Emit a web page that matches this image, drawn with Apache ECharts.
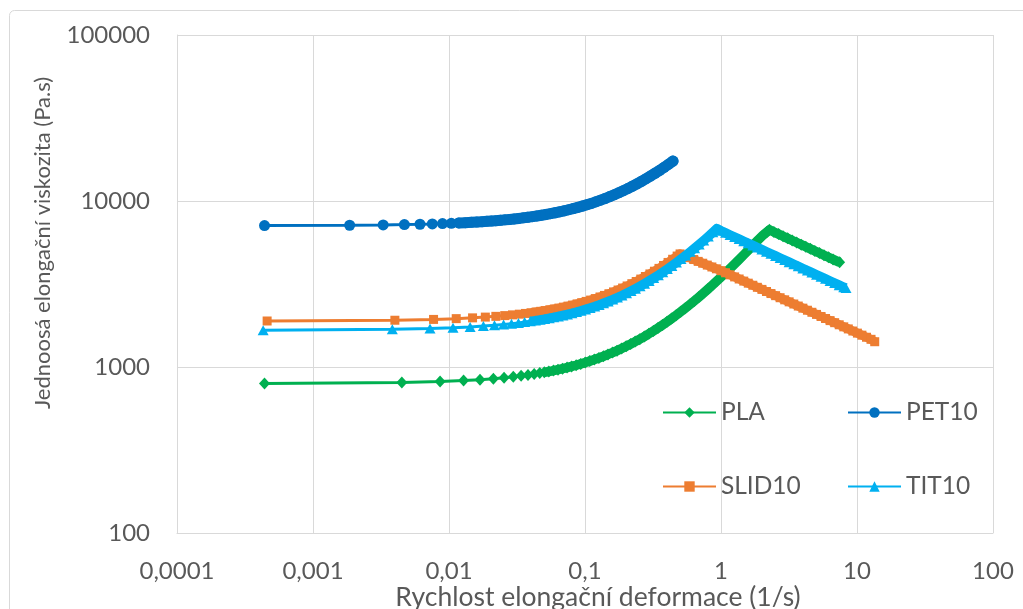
<!DOCTYPE html>
<html><head><meta charset="utf-8">
<script src="https://cdn.jsdelivr.net/npm/echarts@6/dist/echarts.min.js"></script>
<style>html,body{margin:0;padding:0;background:#fff}#c{width:1023px;height:609px}</style>
</head><body><div id="c"></div>
<script>
const seriesNames = ['PLA', 'PET10', 'SLID10', 'TIT10'];
const xTickLabels = ['0,0001', '0,001', '0,01', '0,1', '1', '10', '100'];
const yTickLabels = ['100', '1000', '10000', '100000'];
const xTitle = 'Rychlost elongační deformace (1/s)';
const yTitle = 'Jednoosá elongační viskozita (Pa.s)';

const plaX = [0.00044,0.0045,0.0086,0.0128,0.0169,0.0212,0.0254,0.0297,0.0339,0.0381,0.0423,0.0465,
0.0502,0.0542,0.0586,0.0633,0.0683,0.0738,0.0797,0.0861,0.093,0.1004,0.1084,0.1171,0.1265,0.1366,0.1475,0.1593,0.172,0.1858,0.2007,0.2167,0.234,0.2528,0.273,0.2949,0.3185,0.344,0.3715,0.4012,0.4333,0.468,0.5054,0.5458,0.5895,0.6367,0.6876,0.7426,0.802,0.8662,0.9355,1.01,1.091,1.178,1.273,1.374,1.484,1.603,1.731,1.87,2.02,2.18,2.27,
2.45,2.65,2.86,3.09,3.34,3.6,3.89,4.2,4.54,4.9,5.29,5.72,6.17,6.67,7.45];
const plaY = [795,806,817,828,839,851,862,874,885,896,907,919,
929,939,951,964,977,992,1008,1025,1044,1063,1085,1108,1133,1160,1190,1221,1255,1293,1332,1375,1422,1472,1526,1585,1649,1717,1791,1870,1957,2050,2150,2258,2376,2502,2639,2786,2946,3118,3304,3504,3721,3955,4210,4480,4776,5095,5438,5811,6180,6520,6700,
6508,6317,6137,5959,5786,5622,5459,5303,5148,5000,4858,4716,4581,4448,4270];

const petX = [0.00044,0.00186,0.00328,0.0047,0.00612,0.00754,0.00896,0.0104,0.0118,0.0132,0.0146,0.016,0.0175,0.019,
0.0205,0.0221,0.0239,0.0258,0.0279,0.0301,0.0325,0.0351,0.0379,0.041,0.0442,0.0478,0.0516,0.0557,0.0602,0.065,0.0702,0.0758,0.0819,0.0884,0.0955,0.103,0.111,0.12,0.13,0.14,0.152,0.164,0.177,0.191,0.206,0.223,0.241,0.26,0.281,0.303,0.327,0.354,0.382,0.412,0.444];
const petY = [7110,7143,7176,7209,7242,7275,7308,7341,7374,7406,7439,7471,7506,7541,
7576,7613,7654,7699,7747,7798,7854,7914,7979,8051,8125,8209,8297,8392,8497,8608,8729,8859,9000,9151,9316,9490,9675,9884,10116,10348,10626,10905,11206,11531,11879,12274,12691,13132,13619,14130,14686,15313,15962,16658,17400];

const slidX = [0.00046,0.004,0.0077,0.0113,0.0149,0.0185,0.0221,0.0257,0.0293,0.0329,0.0365,0.0401,0.0437,0.0473,
0.051,0.0551,0.0595,0.0643,0.0694,0.075,0.081,0.0875,0.0945,0.102,0.11,0.119,0.129,0.139,0.15,0.162,0.175,0.189,0.204,0.221,0.238,0.257,0.278,0.3,0.324,0.35,0.378,0.408,0.441,0.476,0.5,
0.54,0.583,0.63,0.68,0.734,0.793,0.857,0.925,1.0,1.08,1.166,1.26,1.36,1.47,1.587,1.714,1.851,2.0,2.16,2.33,2.52,2.72,2.94,3.17,3.43,3.7,4.0,4.32,4.66,5.04,5.44,5.87,6.34,6.85,7.4,7.99,8.63,9.32,10.07,10.87,11.74,12.68,13.5];
const slidY = [1893,1913,1935,1956,1977,1998,2019,2040,2061,2081,2102,2123,2144,2165,
2187,2211,2236,2264,2294,2327,2361,2399,2440,2484,2530,2583,2641,2699,2763,2833,2909,2990,3077,3176,3275,3386,3508,3636,3776,3927,4090,4265,4457,4660,4800,
4675,4557,4440,4328,4219,4111,4005,3904,3803,3696,3592,3489,3390,3292,3199,3108,3020,2934,2850,2770,2690,2614,2539,2469,2396,2329,2262,2198,2136,2074,2015,1959,1903,1849,1796,1745,1696,1647,1600,1555,1511,1468,1420];

const titX = [0.00043,0.00383,0.00725,0.0107,0.0143,0.0179,0.0216,0.0252,0.0288,0.0324,0.036,0.0396,0.0432,0.0468,
0.0505,0.0546,0.059,0.0637,0.0688,0.0743,0.0802,0.0866,0.0936,0.101,0.109,0.118,0.127,0.137,0.148,0.16,0.173,0.187,0.202,0.218,0.235,0.254,0.274,0.296,0.32,0.346,0.373,0.403,0.435,0.47,0.508,0.549,0.593,0.64,0.691,0.746,0.806,0.871,0.93,
1.0,1.08,1.166,1.26,1.36,1.47,1.587,1.714,1.851,2.0,2.16,2.33,2.52,2.72,2.94,3.17,3.43,3.7,4.0,4.32,4.66,5.04,5.44,5.87,6.34,6.85,7.4,7.99,8.3];
const titY = [1667,1686,1705,1724,1744,1764,1784,1804,1824,1844,1864,1884,1903,1923,
1944,1966,1991,2017,2045,2075,2108,2143,2182,2223,2267,2316,2366,2421,2482,2548,2620,2697,2780,2868,2962,3067,3177,3299,3431,3575,3724,3890,4066,4259,4469,4695,4938,5198,5479,5783,6114,6473,6820,
6616,6427,6244,6064,5893,5722,5559,5400,5245,5095,4949,4810,4670,4538,4407,4283,4158,4041,3924,3812,3705,3597,3494,3396,3299,3203,3112,3023,2990];

// index from which the measured points are so close that their markers merge into a band
const denseFrom = [12, 8, 11, 11];

const colors = ['#00B050', '#0070C0', '#ED7D31', '#00B0F0'];
const symbols = ['diamond', 'circle', 'rect', 'triangle'];
const symbolSizes = [[11, 12], 11, 9, [11, 10]];
const bandWidths = [9.5, 11, 9, 9.5];

function pairs(xs, ys) { return xs.map((x, i) => [x, ys[i]]); }
const dataSets = [pairs(plaX, plaY), pairs(petX, petY), pairs(slidX, slidY), pairs(titX, titY)];

const FONT = 'Lato, "Open Sans", sans-serif';
const TXT = '#595959';
const GRID = '#D9D9D9';

const chart = echarts.init(document.getElementById('c'), null, { renderer: 'canvas' });
const legendText = { fontFamily: FONT, fontSize: 24.5, color: TXT, lineHeight: 24 };

const markerSeries = seriesNames.map((name, i) => ({
  name: name, type: 'line', data: dataSets[i],
  symbol: symbols[i], symbolSize: symbolSizes[i],
  showSymbol: true, showAllSymbol: true,
  lineStyle: { color: colors[i], width: 3 },
  itemStyle: { color: colors[i], borderWidth: 0 },
  emphasis: { disabled: true },
  z: 3 + 2 * i
}));
const bandSeries = seriesNames.map((name, i) => ({
  name: name, type: 'line', data: dataSets[i].slice(denseFrom[i]),
  symbol: 'none', legendHoverLink: false,
  lineStyle: { color: colors[i], width: bandWidths[i], join: 'round', cap: i === 1 ? 'round' : 'butt' },
  emphasis: { disabled: true },
  z: 2 + 2 * i
}));

chart.setOption({
  animation: false,
  backgroundColor: '#ffffff',
  grid: { left: 177, right: 30, top: 35, bottom: 76, containLabel: false },
  xAxis: {
    type: 'log', logBase: 10, min: 0.0001, max: 100,
    axisLine: { show: true, onZero: false, lineStyle: { color: GRID, width: 1 } },
    axisTick: { show: false },
    minorTick: { show: false },
    splitLine: { show: true, lineStyle: { color: GRID, width: 1 } },
    axisLabel: {
      color: TXT, fontFamily: FONT, fontSize: 24, margin: 26,
      formatter: v => xTickLabels[Math.round(Math.log10(v)) + 4]
    }
  },
  yAxis: {
    type: 'log', logBase: 10, min: 100, max: 100000,
    axisLine: { show: true, onZero: false, lineStyle: { color: GRID, width: 1 } },
    axisTick: { show: false },
    minorTick: { show: false },
    splitLine: { show: true, lineStyle: { color: GRID, width: 1 } },
    axisLabel: {
      color: TXT, fontFamily: FONT, fontSize: 24, margin: 27,
      formatter: v => yTickLabels[Math.round(Math.log10(v)) - 2]
    }
  },
  legend: [
    { data: [seriesNames[0], seriesNames[2]], orient: 'vertical', left: 662, top: 400, padding: 0,
      itemWidth: 53, itemHeight: 13, itemGap: 49, textStyle: legendText, selectedMode: false },
    { data: [seriesNames[1], seriesNames[3]], orient: 'vertical', left: 847, top: 400, padding: 0,
      itemWidth: 53, itemHeight: 13, itemGap: 49, textStyle: legendText, selectedMode: false }
  ],
  graphic: [
    { type: 'rect', silent: true, z: -10,
      shape: { x: 9.5, y: 10.5, width: 1040, height: 640, r: 5 },
      style: { fill: 'none', stroke: GRID, lineWidth: 1 } },
    { type: 'text', silent: true, x: 598, y: 597,
      style: { text: xTitle, fontFamily: FONT, fontSize: 26.5, fill: TXT, align: 'center', verticalAlign: 'middle' } },
    { type: 'text', silent: true, x: 43, y: 243, rotation: Math.PI / 2,
      style: { text: yTitle, fontFamily: FONT, fontSize: 22, fill: TXT, align: 'center', verticalAlign: 'middle' } }
  ],
  series: markerSeries.concat(bandSeries)
});
</script>
</body></html>
